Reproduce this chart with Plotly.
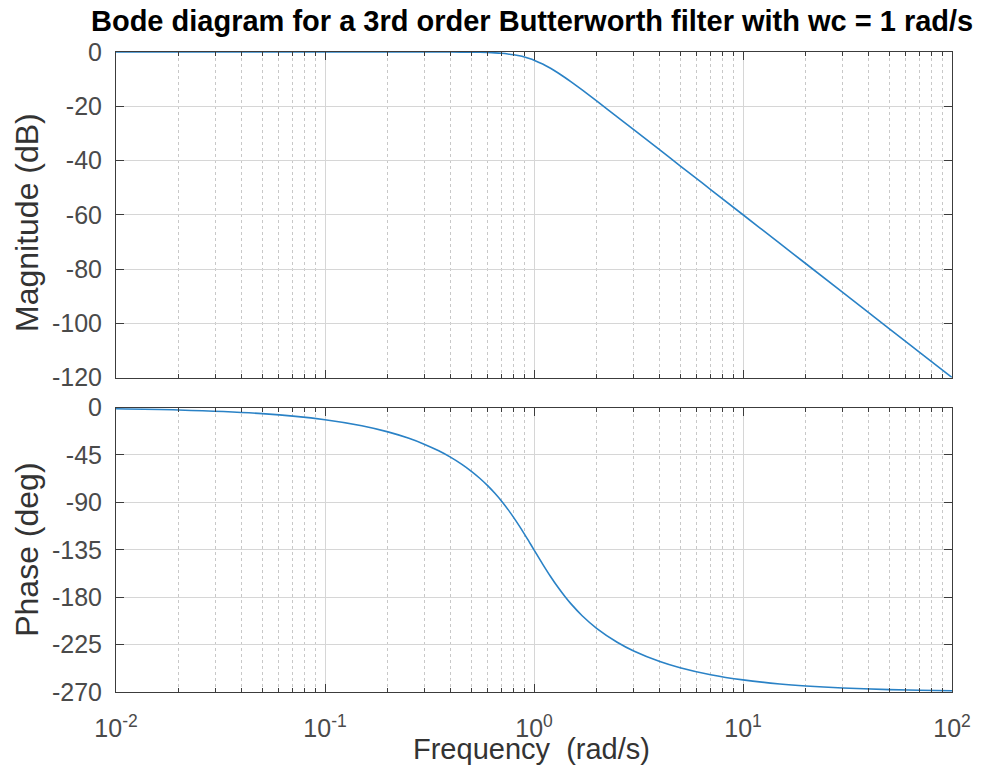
import plotly.graph_objects as go

# ---- data ----
freq = [0.01, 0.02, 0.05, 0.1, 0.15, 0.2, 0.25, 0.3, 0.35, 0.4, 0.45, 0.5, 0.55, 0.6,
        0.65, 0.7, 0.75, 0.8, 0.85, 0.9, 0.95, 1.0, 1.1, 1.2, 1.3, 1.4, 1.5, 1.7, 2.0,
        2.5, 3.0, 4.0, 5.0, 7.0, 10.0, 15.0, 20.0, 30.0, 50.0, 70.0, 100.0]
mag_db = [0.0, 0.0, 0.0, 0.0, 0.0, 0.0, -0.001, -0.003, -0.008, -0.018, -0.036, -0.067,
          -0.119, -0.198, -0.316, -0.483, -0.711, -1.011, -1.390, -1.851, -2.394, -3.010,
          -4.427, -6.005, -7.655, -9.309, -10.931, -14.003, -18.129, -23.894, -28.633,
          -36.125, -41.938, -50.706, -60.0, -70.566, -78.062, -88.627, -101.938,
          -110.706, -120.0]
phase_deg = [-1.15, -2.29, -5.73, -11.48, -17.26, -23.08, -28.97, -34.94, -41.04, -47.27,
             -53.66, -60.26, -67.07, -74.12, -81.40, -88.92, -96.61, -104.43, -112.28,
             -120.07, -127.67, -135.0, -148.54, -160.33, -170.39, -178.90, -186.12,
             -197.57, -209.74, -222.73, -231.01, -241.03, -246.92, -253.57, -258.52,
             -262.35, -264.27, -266.18, -267.71, -268.36, -268.85]

x_major = [0.01, 0.1, 1, 10, 100]
x_major_text = ["10<sup>-2</sup>", "10<sup>-1</sup>", "10<sup>0</sup>", "10<sup>1</sup>", "10<sup>2</sup>"]
x_minor = [k * d for d in [0.01, 0.1, 1, 10] for k in range(2, 10)]
mag_ticks = [-120, -100, -80, -60, -40, -20, 0]
phase_ticks = [-270, -225, -180, -135, -90, -45, 0]

line_color = "#2a82c6"
axis_color = "#3c3c3c"
FONT = "Liberation Sans, Arial, sans-serif"
tick_font = dict(family=FONT, size=25, color="#4a4a4a")
xlabel_font = dict(family=FONT, size=29, color="#333333")
ylabel_font = dict(family=FONT, size=32, color="#333333")

PL, PT = 116, 52     # plot area left / top in page pixels
PW = 836.0           # plot width
PH = 640.0           # plot height
TOP_DOM = [0.4914, 1]
BOT_DOM = [0, 0.4444]

fig = go.Figure()
fig.add_trace(go.Scatter(x=freq, y=mag_db, mode="lines", xaxis="x", yaxis="y",
                         line=dict(color=line_color, width=1.6, shape="spline"),
                         showlegend=False))
fig.add_trace(go.Scatter(x=freq, y=phase_deg, mode="lines", xaxis="x2", yaxis="y2",
                         line=dict(color=line_color, width=1.6, shape="spline"),
                         showlegend=False))

common_x = dict(type="log", range=[-2, 2], tickmode="array", tickvals=x_major,
                ticktext=x_major_text, ticks="inside", ticklen=8, tickcolor=axis_color,
                showline=True, linecolor=axis_color, linewidth=1, mirror="allticks",
                showgrid=True, gridcolor="#d6d6d6", gridwidth=1, zeroline=False,
                tickfont=tick_font,
                minor=dict(tickmode="array", tickvals=x_minor, ticks="inside", ticklen=4,
                           tickcolor=axis_color, showgrid=True, gridcolor="#c8c8c8",
                           griddash="dot", gridwidth=1))
common_y = dict(ticks="inside", ticklen=8, tickcolor=axis_color, showline=True,
                linecolor=axis_color, linewidth=1, mirror="allticks", showgrid=True,
                gridcolor="#d6d6d6", gridwidth=1, zeroline=False, tickfont=tick_font,
                ticklabelstandoff=8, tickmode="array")

fig.update_layout(
    width=982, height=767,
    margin=dict(l=PL, r=982 - PL - int(PW), t=PT, b=767 - PT - int(PH)),
    paper_bgcolor="white", plot_bgcolor="white",
    xaxis=dict(common_x, domain=[0, 1], anchor="y", showticklabels=False, matches="x2"),
    yaxis=dict(common_y, domain=TOP_DOM, anchor="x", range=[-120, 0],
               tickvals=mag_ticks, ticktext=[str(v) for v in mag_ticks]),
    xaxis2=dict(common_x, domain=[0, 1], anchor="y2", ticklabelstandoff=14),
    yaxis2=dict(common_y, domain=BOT_DOM, anchor="x2", range=[-270, 0],
                tickvals=phase_ticks, ticktext=[str(v) for v in phase_ticks]),
    annotations=[
        dict(text="<b>Bode diagram for a 3rd order Butterworth filter with wc = 1 rad/s</b>",
             x=(532 - PL) / PW, y=1 + (PT - 21) / PH, xref="paper", yref="paper",
             xanchor="center", yanchor="middle", showarrow=False,
             font=dict(family=FONT, size=29, color="#000000")),
        dict(text="Magnitude (dB)", x=(27 - PL) / PW, y=(PT + PH - 223) / PH,
             xref="paper", yref="paper", xanchor="center", yanchor="middle", textangle=-90,
             showarrow=False, font=ylabel_font),
        dict(text="Phase (deg)", x=(27 - PL) / PW, y=(BOT_DOM[0] + BOT_DOM[1]) / 2,
             xref="paper", yref="paper", xanchor="center", yanchor="middle", textangle=-90,
             showarrow=False, font=ylabel_font),
        dict(text="Frequency  (rad/s)", x=(531.5 - PL) / PW, y=(PT + PH - 749) / PH,
             xref="paper", yref="paper", xanchor="center", yanchor="middle",
             showarrow=False, font=xlabel_font),
    ],
)

fig.write_html("out.html", config={"displayModeBar": False},
               post_script="document.body.style.margin='0px';document.body.style.overflow='hidden';")
